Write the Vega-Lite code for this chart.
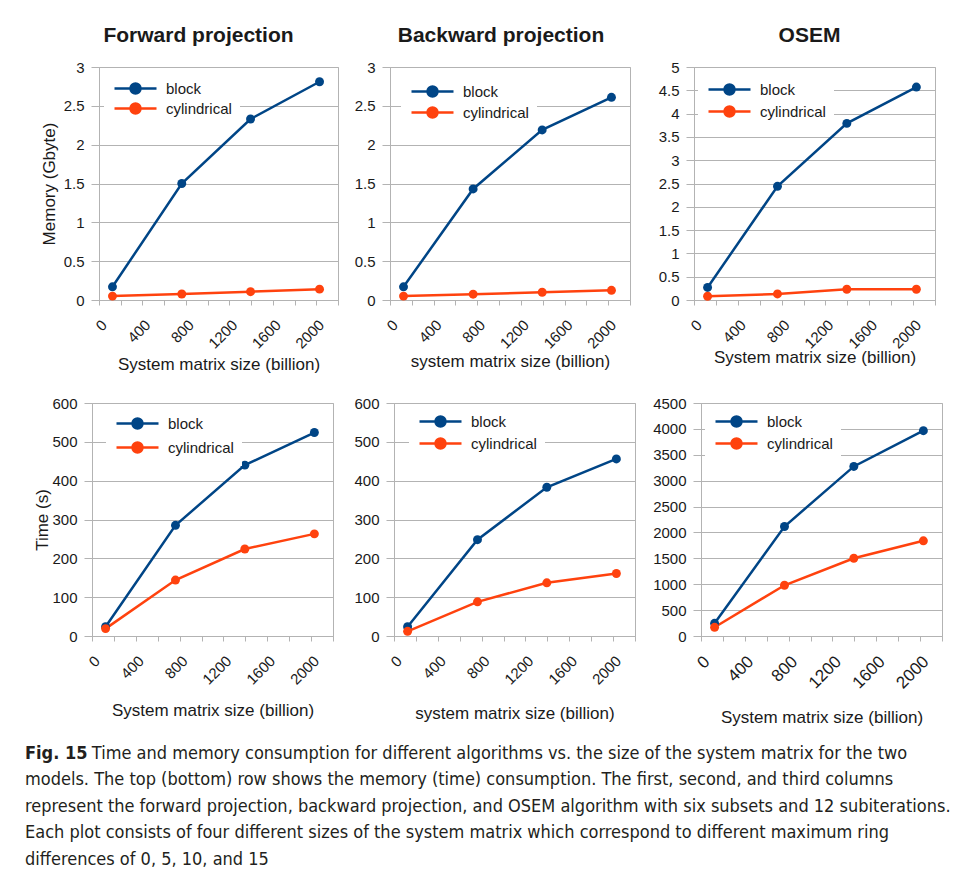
{
  "$schema": "https://vega.github.io/schema/vega-lite/v6.json",
  "padding": {"left": 25, "top": 24, "right": 5, "bottom": 5},
  "background": "white",
  "datasets": {
    "fwd_mem": [
      {"size": 124, "value": 0.17, "geometry": "block"},
      {"size": 762, "value": 1.5, "geometry": "block"},
      {"size": 1395, "value": 2.33, "geometry": "block"},
      {"size": 2030, "value": 2.81, "geometry": "block"},
      {"size": 124, "value": 0.05, "geometry": "cylindrical"},
      {"size": 762, "value": 0.077, "geometry": "cylindrical"},
      {"size": 1395, "value": 0.107, "geometry": "cylindrical"},
      {"size": 2030, "value": 0.14, "geometry": "cylindrical"}
    ],
    "bwd_mem": [
      {"size": 124, "value": 0.17, "geometry": "block"},
      {"size": 762, "value": 1.43, "geometry": "block"},
      {"size": 1395, "value": 2.19, "geometry": "block"},
      {"size": 2030, "value": 2.61, "geometry": "block"},
      {"size": 124, "value": 0.05, "geometry": "cylindrical"},
      {"size": 762, "value": 0.075, "geometry": "cylindrical"},
      {"size": 1395, "value": 0.1, "geometry": "cylindrical"},
      {"size": 2030, "value": 0.125, "geometry": "cylindrical"}
    ],
    "osem_mem": [
      {"size": 124, "value": 0.27, "geometry": "block"},
      {"size": 762, "value": 2.44, "geometry": "block"},
      {"size": 1395, "value": 3.79, "geometry": "block"},
      {"size": 2030, "value": 4.57, "geometry": "block"},
      {"size": 124, "value": 0.08, "geometry": "cylindrical"},
      {"size": 762, "value": 0.13, "geometry": "cylindrical"},
      {"size": 1395, "value": 0.23, "geometry": "cylindrical"},
      {"size": 2030, "value": 0.23, "geometry": "cylindrical"}
    ],
    "fwd_time": [
      {"size": 124, "value": 24, "geometry": "block"},
      {"size": 762, "value": 285, "geometry": "block"},
      {"size": 1395, "value": 440, "geometry": "block"},
      {"size": 2030, "value": 524, "geometry": "block"},
      {"size": 124, "value": 19, "geometry": "cylindrical"},
      {"size": 762, "value": 144, "geometry": "cylindrical"},
      {"size": 1395, "value": 224, "geometry": "cylindrical"},
      {"size": 2030, "value": 263, "geometry": "cylindrical"}
    ],
    "bwd_time": [
      {"size": 124, "value": 24, "geometry": "block"},
      {"size": 762, "value": 248, "geometry": "block"},
      {"size": 1395, "value": 383, "geometry": "block"},
      {"size": 2030, "value": 456, "geometry": "block"},
      {"size": 124, "value": 12, "geometry": "cylindrical"},
      {"size": 762, "value": 88, "geometry": "cylindrical"},
      {"size": 1395, "value": 137, "geometry": "cylindrical"},
      {"size": 2030, "value": 161, "geometry": "cylindrical"}
    ],
    "osem_time": [
      {"size": 124, "value": 245, "geometry": "block"},
      {"size": 762, "value": 2115, "geometry": "block"},
      {"size": 1395, "value": 3275, "geometry": "block"},
      {"size": 2030, "value": 3965, "geometry": "block"},
      {"size": 124, "value": 168, "geometry": "cylindrical"},
      {"size": 762, "value": 980, "geometry": "cylindrical"},
      {"size": 1395, "value": 1502, "geometry": "cylindrical"},
      {"size": 2030, "value": 1838, "geometry": "cylindrical"}
    ]
  },
  "title": {
    "text": "Fig. 15",
    "subtitle": [
      "\u200b\u00a0\u00a0\u00a0\u00a0\u00a0\u00a0\u00a0\u00a0\u00a0\u00a0\u00a0\u00a0\u00a0Time and memory consumption for different algorithms vs. the size of the system matrix for the two",
      "models. The top (bottom) row shows the memory (time) consumption. The first, second, and third columns",
      "represent the forward projection, backward projection, and OSEM algorithm with six subsets and 12 subiterations.",
      "Each plot consists of four different sizes of the system matrix which correspond to different maximum ring",
      "differences of 0, 5, 10, and 15"
    ],
    "orient": "bottom",
    "anchor": "start",
    "frame": "group",
    "dx": -67,
    "offset": 19,
    "font": "DejaVu Sans Condensed, sans-serif",
    "fontSize": 18,
    "fontWeight": "bold",
    "color": "#231f20",
    "subtitleFont": "DejaVu Sans Condensed, sans-serif",
    "subtitleFontSize": 18,
    "subtitleLineHeight": 26.5,
    "subtitleColor": "#231f20",
    "subtitlePadding": -18
  },
  "vconcat": [
    {
      "hconcat": [
        {
          "hconcat": [
            {
              "width": 239, "height": 233,
              "title": {"text": "Forward projection", "dx": -20},
              "data": {"name": "fwd_mem"},
              "mark": {"type": "line", "strokeWidth": 2.5, "point": {"filled": true, "size": 80}},
              "encoding": {
                "x": {"field": "size", "type": "quantitative", "scale": {"domain": [0, 2200], "nice": false},
                  "axis": {"title": "System matrix size (billion)", "titlePadding": 5, "values": [0, 200, 400, 600, 800, 1000, 1200, 1400, 1600, 1800, 2000, 2200]}},
                "y": {"field": "value", "type": "quantitative", "scale": {"domain": [0, 3], "nice": false},
                  "axis": {"title": "Memory (Gbyte)", "values": [0, 0.5, 1, 1.5, 2, 2.5, 3]}},
                "color": {"field": "geometry", "type": "nominal",
                  "scale": {"domain": ["block", "cylindrical"], "range": ["#004586", "#ff420e"]},
                  "legend": {"title": null, "orient": "none", "legendX": 5, "legendY": 6, "rowPadding": -1,
                    "encode": {"symbols": {"update": {
                      "fill": [{"test": "datum.value === 'block'", "value": "#004586"}, {"value": "#ff420e"}],
                      "stroke": [{"test": "datum.value === 'block'", "value": "#004586"}, {"value": "#ff420e"}],
                      "opacity": {"value": 1}}}}}}
              }
            },
            {
              "width": 240, "height": 233,
              "title": {"text": "Backward projection", "dx": -9},
              "data": {"name": "bwd_mem"},
              "mark": {"type": "line", "strokeWidth": 2.5, "point": {"filled": true, "size": 80}},
              "encoding": {
                "x": {"field": "size", "type": "quantitative", "scale": {"domain": [0, 2200], "nice": false},
                  "axis": {"title": "system matrix size (billion)", "titlePadding": 2, "values": [0, 200, 400, 600, 800, 1000, 1200, 1400, 1600, 1800, 2000, 2200]}},
                "y": {"field": "value", "type": "quantitative", "scale": {"domain": [0, 3], "nice": false},
                  "axis": {"title": null, "values": [0, 0.5, 1, 1.5, 2, 2.5, 3]}},
                "color": {"field": "geometry", "type": "nominal",
                  "scale": {"domain": ["block", "cylindrical"], "range": ["#004586", "#ff420e"]},
                  "legend": {"title": null, "orient": "none", "legendX": 11, "legendY": 9, "rowPadding": 0,
                    "encode": {"symbols": {"update": {
                      "fill": [{"test": "datum.value === 'block'", "value": "#004586"}, {"value": "#ff420e"}],
                      "stroke": [{"test": "datum.value === 'block'", "value": "#004586"}, {"value": "#ff420e"}],
                      "opacity": {"value": 1}}}}}}
              }
            }
          ],
          "spacing": 14,
          "resolve": {"scale": {"color": "independent"}, "legend": {"color": "independent"}}
        },
        {
          "width": 241, "height": 233,
          "title": {"text": "OSEM", "dx": -5},
          "data": {"name": "osem_mem"},
          "mark": {"type": "line", "strokeWidth": 2.5, "point": {"filled": true, "size": 80}},
          "encoding": {
            "x": {"field": "size", "type": "quantitative", "scale": {"domain": [0, 2200], "nice": false},
              "axis": {"title": "System matrix size (billion)", "titlePadding": -2, "values": [0, 200, 400, 600, 800, 1000, 1200, 1400, 1600, 1800, 2000, 2200]}},
            "y": {"field": "value", "type": "quantitative", "scale": {"domain": [0, 5], "nice": false},
              "axis": {"title": null, "values": [0, 0.5, 1, 1.5, 2, 2.5, 3, 3.5, 4, 4.5, 5]}},
            "color": {"field": "geometry", "type": "nominal",
              "scale": {"domain": ["block", "cylindrical"], "range": ["#004586", "#ff420e"]},
              "legend": {"title": null, "orient": "none", "legendX": 4, "legendY": 7, "rowPadding": 1,
                "encode": {"symbols": {"update": {
                  "fill": [{"test": "datum.value === 'block'", "value": "#004586"}, {"value": "#ff420e"}],
                  "stroke": [{"test": "datum.value === 'block'", "value": "#004586"}, {"value": "#ff420e"}],
                  "opacity": {"value": 1}}}}}}
          }
        }
      ],
      "spacing": 26,
      "resolve": {"scale": {"color": "independent"}, "legend": {"color": "independent"}}
    },
    {
      "hconcat": [
        {
          "hconcat": [
            {
              "width": 241, "height": 233,
              "data": {"name": "fwd_time"},
              "mark": {"type": "line", "strokeWidth": 2.5, "point": {"filled": true, "size": 80}},
              "encoding": {
                "x": {"field": "size", "type": "quantitative", "scale": {"domain": [0, 2200], "nice": false},
                  "axis": {"title": "System matrix size (billion)", "titlePadding": 15, "values": [0, 200, 400, 600, 800, 1000, 1200, 1400, 1600, 1800, 2000, 2200]}},
                "y": {"field": "value", "type": "quantitative", "scale": {"domain": [0, 600], "nice": false},
                  "axis": {"title": "Time (s)", "titlePadding": 0, "values": [0, 100, 200, 300, 400, 500, 600]}},
                "color": {"field": "geometry", "type": "nominal",
                  "scale": {"domain": ["block", "cylindrical"], "range": ["#004586", "#ff420e"]},
                  "legend": {"title": null, "orient": "none", "legendX": 14, "legendY": 5, "rowPadding": 3,
                    "encode": {"symbols": {"update": {
                      "fill": [{"test": "datum.value === 'block'", "value": "#004586"}, {"value": "#ff420e"}],
                      "stroke": [{"test": "datum.value === 'block'", "value": "#004586"}, {"value": "#ff420e"}],
                      "opacity": {"value": 1}}}}}}
              }
            },
            {
              "width": 241, "height": 233,
              "data": {"name": "bwd_time"},
              "mark": {"type": "line", "strokeWidth": 2.5, "point": {"filled": true, "size": 80}},
              "encoding": {
                "x": {"field": "size", "type": "quantitative", "scale": {"domain": [0, 2200], "nice": false},
                  "axis": {"title": "system matrix size (billion)", "titlePadding": 18, "values": [0, 200, 400, 600, 800, 1000, 1200, 1400, 1600, 1800, 2000, 2200]}},
                "y": {"field": "value", "type": "quantitative", "scale": {"domain": [0, 600], "nice": false},
                  "axis": {"title": null, "values": [0, 100, 200, 300, 400, 500, 600]}},
                "color": {"field": "geometry", "type": "nominal",
                  "scale": {"domain": ["block", "cylindrical"], "range": ["#004586", "#ff420e"]},
                  "legend": {"title": null, "orient": "none", "legendX": 15, "legendY": 3, "rowPadding": 1,
                    "encode": {"symbols": {"update": {
                      "fill": [{"test": "datum.value === 'block'", "value": "#004586"}, {"value": "#ff420e"}],
                      "stroke": [{"test": "datum.value === 'block'", "value": "#004586"}, {"value": "#ff420e"}],
                      "opacity": {"value": 1}}}}}}
              }
            }
          ],
          "spacing": 19,
          "resolve": {"scale": {"color": "independent"}, "legend": {"color": "independent"}}
        },
        {
          "width": 241, "height": 233,
          "data": {"name": "osem_time"},
          "mark": {"type": "line", "strokeWidth": 2.5, "point": {"filled": true, "size": 80}},
          "encoding": {
            "x": {"field": "size", "type": "quantitative", "scale": {"domain": [0, 2200], "nice": false},
              "axis": {"title": "System matrix size (billion)", "titlePadding": 18, "labelFontSize": 17, "values": [0, 200, 400, 600, 800, 1000, 1200, 1400, 1600, 1800, 2000, 2200]}},
            "y": {"field": "value", "type": "quantitative", "scale": {"domain": [0, 4500], "nice": false},
              "axis": {"title": null, "values": [0, 500, 1000, 1500, 2000, 2500, 3000, 3500, 4000, 4500]}},
            "color": {"field": "geometry", "type": "nominal",
              "scale": {"domain": ["block", "cylindrical"], "range": ["#004586", "#ff420e"]},
              "legend": {"title": null, "orient": "none", "legendX": 4, "legendY": 3, "rowPadding": 1,
                "encode": {"symbols": {"update": {
                  "fill": [{"test": "datum.value === 'block'", "value": "#004586"}, {"value": "#ff420e"}],
                  "stroke": [{"test": "datum.value === 'block'", "value": "#004586"}, {"value": "#ff420e"}],
                  "opacity": {"value": 1}}}}}}
          }
        }
      ],
      "spacing": 16,
      "resolve": {"scale": {"color": "independent"}, "legend": {"color": "independent"}}
    }
  ],
  "spacing": 22,
  "center": true,
  "resolve": {"scale": {"color": "independent"}, "legend": {"color": "independent"}},
  "config": {
    "font": "Liberation Sans",
    "view": {"stroke": "#b3b3b3", "strokeWidth": 1},
    "axis": {
      "domainColor": "#b3b3b3", "tickColor": "#b3b3b3", "gridColor": "#b3b3b3", "gridOpacity": 1,
      "labelFont": "Liberation Sans", "labelFontSize": 15, "labelColor": "#1a1a1a",
      "titleFont": "Liberation Sans", "titleFontSize": 17, "titleFontWeight": "normal", "titleColor": "#1a1a1a"
    },
    "axisX": {
      "grid": false, "tickSize": 5, "labelAngle": -45, "labelPadding": 12, "format": "d",
      "labelExpr": "datum.value % 400 === 0 ? datum.label : ''", "titlePadding": 8
    },
    "axisY": {"grid": true, "tickSize": 8, "labelPadding": 7, "format": ".2~f", "titlePadding": 5},
    "legend": {
      "fillColor": "white", "padding": 8, "labelOffset": 39,
      "symbolType": "M-1,0H7.4M4.2,0A1,1,0,1,1,2.2,0A1,1,0,1,1,4.2,0Z",
      "symbolSize": 100, "symbolStrokeWidth": 2.5,
      "labelFont": "Liberation Sans", "labelFontSize": 15, "labelColor": "#1a1a1a"
    },
    "title": {"font": "Liberation Sans", "fontSize": 21, "fontWeight": "bold", "color": "#1a1a1a", "offset": 14}
  }
}
